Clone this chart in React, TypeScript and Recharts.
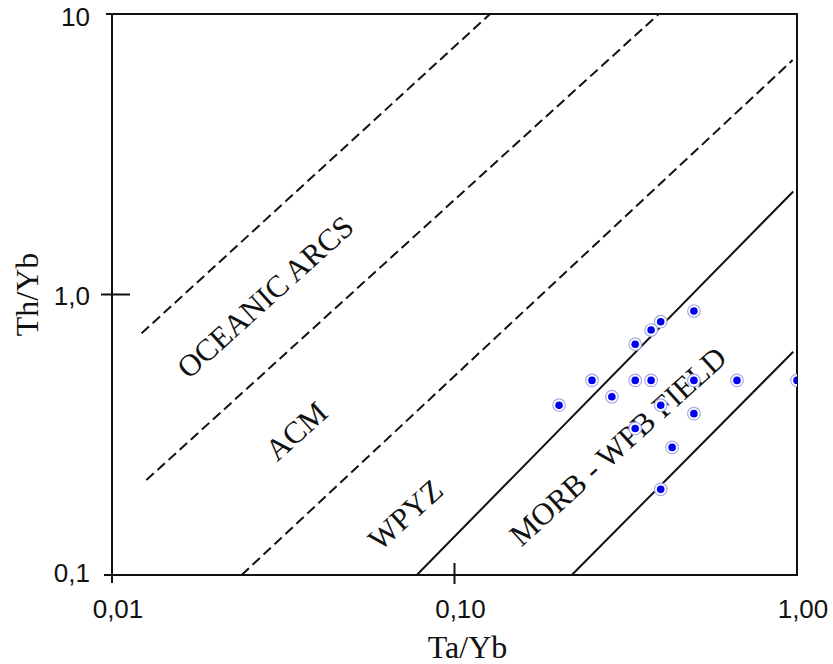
import { ScatterChart, Scatter, XAxis, YAxis, ReferenceLine, ReferenceArea, ReferenceDot } from 'recharts';

// sample ratios
const taYb = [0.5, 0.4, 0.375, 0.337, 0.252, 0.337, 0.375, 0.5, 0.668, 1.0, 0.202, 0.288, 0.4, 0.5, 0.337, 0.432, 0.4];
const thYb = [0.873, 0.8, 0.747, 0.665, 0.494, 0.494, 0.494, 0.494, 0.494, 0.494, 0.403, 0.432, 0.403, 0.376, 0.333, 0.285, 0.202];

const xTicks = [0.01, 0.1, 1];
const xTickLabels = ['0,01', '0,10', '1,00'];
const yTicks = [0.1, 1, 10];
const yTickLabels = ['0,1', '1,0', '10'];

// field boundaries, [Ta/Yb, Th/Yb] end points
const dashedBoundaries = [
    [[0.0122, 0.727], [0.127, 10]],
    [[0.0126, 0.218], [0.395, 10]],
    [[0.0239, 0.1], [0.971, 6.85]],
];
const solidBoundaries = [
    [[0.0776, 0.1], [0.975, 2.33]],
    [[0.22, 0.1], [0.975, 0.625]],
];

const fieldNames = ['OCEANIC ARCS', 'ACM', 'WPYZ', 'MORB - WPB FIELD'];
const fieldAnchors = [
    [0.028, 0.98],
    [0.0345, 0.326],
    [0.0719, 0.164],
    [0.3, 0.288],
];

const data = taYb.map((x, i) => ({ x, y: thYb[i] }));

const INK = '#111';
const SANS = '"Liberation Sans", Arial, sans-serif';
const SERIF = '"Liberation Serif", "Times New Roman", serif';

const renderXTick = (props: any) => {
    const { x, y, index } = props;
    const marks = [[0, 8], [-12, 9], null];
    const m = marks[index];
    return (
        <g>
            {m && <line x1={x} x2={x} y1={y + m[0]} y2={y + m[1]} stroke={INK} strokeWidth={2} />}
            <text x={x + 6} y={y + 43} textAnchor="middle" fontFamily={SANS} fontSize={26} fill={INK}>
                {xTickLabels[index]}
            </text>
        </g>
    );
};

const renderYTick = (props: any) => {
    const { x, y, index } = props;
    const marks = [[-8, 0], [-11, 18], [-6, 0]];
    const dy = [7, 10, 12];
    const m = marks[index];
    return (
        <g>
            <line x1={x + m[0]} x2={x + m[1]} y1={y} y2={y} stroke={INK} strokeWidth={2} />
            <text x={x - 22} y={y + dy[index]} textAnchor="end" fontFamily={SANS} fontSize={26} fill={INK}>
                {yTickLabels[index]}
            </text>
        </g>
    );
};

const SampleDot = (props: any) => {
    const { cx, cy } = props;
    return (
        <g>
            <circle cx={cx} cy={cy} r={6.3} fill="#fff" stroke="#a9a9e6" strokeWidth={1.2} />
            <circle cx={cx} cy={cy} r={3.8} fill="#0000f0" />
        </g>
    );
};

const fieldLabel = (name: string) => (props: any) => {
    const { cx, cy } = props;
    return (
        <text
            x={cx}
            y={cy}
            transform={`rotate(-42 ${cx} ${cy})`}
            textAnchor="middle"
            dominantBaseline="central"
            fontFamily={SERIF}
            fontSize={31}
            fill={INK}
        >
            {name}
        </text>
    );
};

export default function App() {
    return (
        <div style={{ position: 'absolute', left: 0, top: 0, background: '#fff' }}>
            <ScatterChart width={833} height={664} margin={{ top: 14, right: 36, bottom: 0, left: 0 }}>
                <XAxis
                    type="number"
                    dataKey="x"
                    scale="log"
                    domain={[0.01, 1]}
                    ticks={xTicks}
                    interval={0}
                    allowDataOverflow
                    height={89}
                    tickLine={false}
                    tickSize={0}
                    tickMargin={0}
                    tick={renderXTick}
                    axisLine={{ stroke: INK, strokeWidth: 2 }}
                    label={(p: any) => (
                        <text
                            x={p.viewBox.x + p.viewBox.width / 2 + 13}
                            y={p.viewBox.y + p.viewBox.height - 6}
                            textAnchor="middle"
                            fontFamily={SERIF}
                            fontSize={32}
                            fill={INK}
                        >
                            Ta/Yb
                        </text>
                    )}
                />
                <YAxis
                    type="number"
                    dataKey="y"
                    scale="log"
                    domain={[0.1, 10]}
                    ticks={yTicks}
                    interval={0}
                    allowDataOverflow
                    width={112}
                    tickLine={false}
                    tickSize={0}
                    tickMargin={0}
                    tick={renderYTick}
                    axisLine={{ stroke: INK, strokeWidth: 2 }}
                    label={(p: any) => {
                        const cx = 38;
                        const cy = p.viewBox.y + p.viewBox.height / 2;
                        return (
                            <text
                                x={cx}
                                y={cy}
                                transform={`rotate(-90 ${cx} ${cy})`}
                                textAnchor="middle"
                                fontFamily={SERIF}
                                fontSize={32}
                                fill={INK}
                            >
                                Th/Yb
                            </text>
                        );
                    }}
                />
                <ReferenceArea x1={0.01} x2={1} y1={0.1} y2={10} fill="none" stroke={INK} strokeWidth={2} />
                {dashedBoundaries.map((seg, i) => (
                    <ReferenceLine
                        key={`d${i}`}
                        segment={[{ x: seg[0][0], y: seg[0][1] }, { x: seg[1][0], y: seg[1][1] }]}
                        stroke={INK}
                        strokeWidth={2}
                        strokeDasharray="10 5"
                    />
                ))}
                {solidBoundaries.map((seg, i) => (
                    <ReferenceLine
                        key={`s${i}`}
                        segment={[{ x: seg[0][0], y: seg[0][1] }, { x: seg[1][0], y: seg[1][1] }]}
                        stroke={INK}
                        strokeWidth={2}
                    />
                ))}
                {fieldNames.map((name, i) => (
                    <ReferenceDot
                        key={name}
                        x={fieldAnchors[i][0]}
                        y={fieldAnchors[i][1]}
                        r={0}
                        shape={fieldLabel(name)}
                    />
                ))}
                <Scatter data={data} shape={<SampleDot />} isAnimationActive={false} />
            </ScatterChart>
        </div>
    );
}
